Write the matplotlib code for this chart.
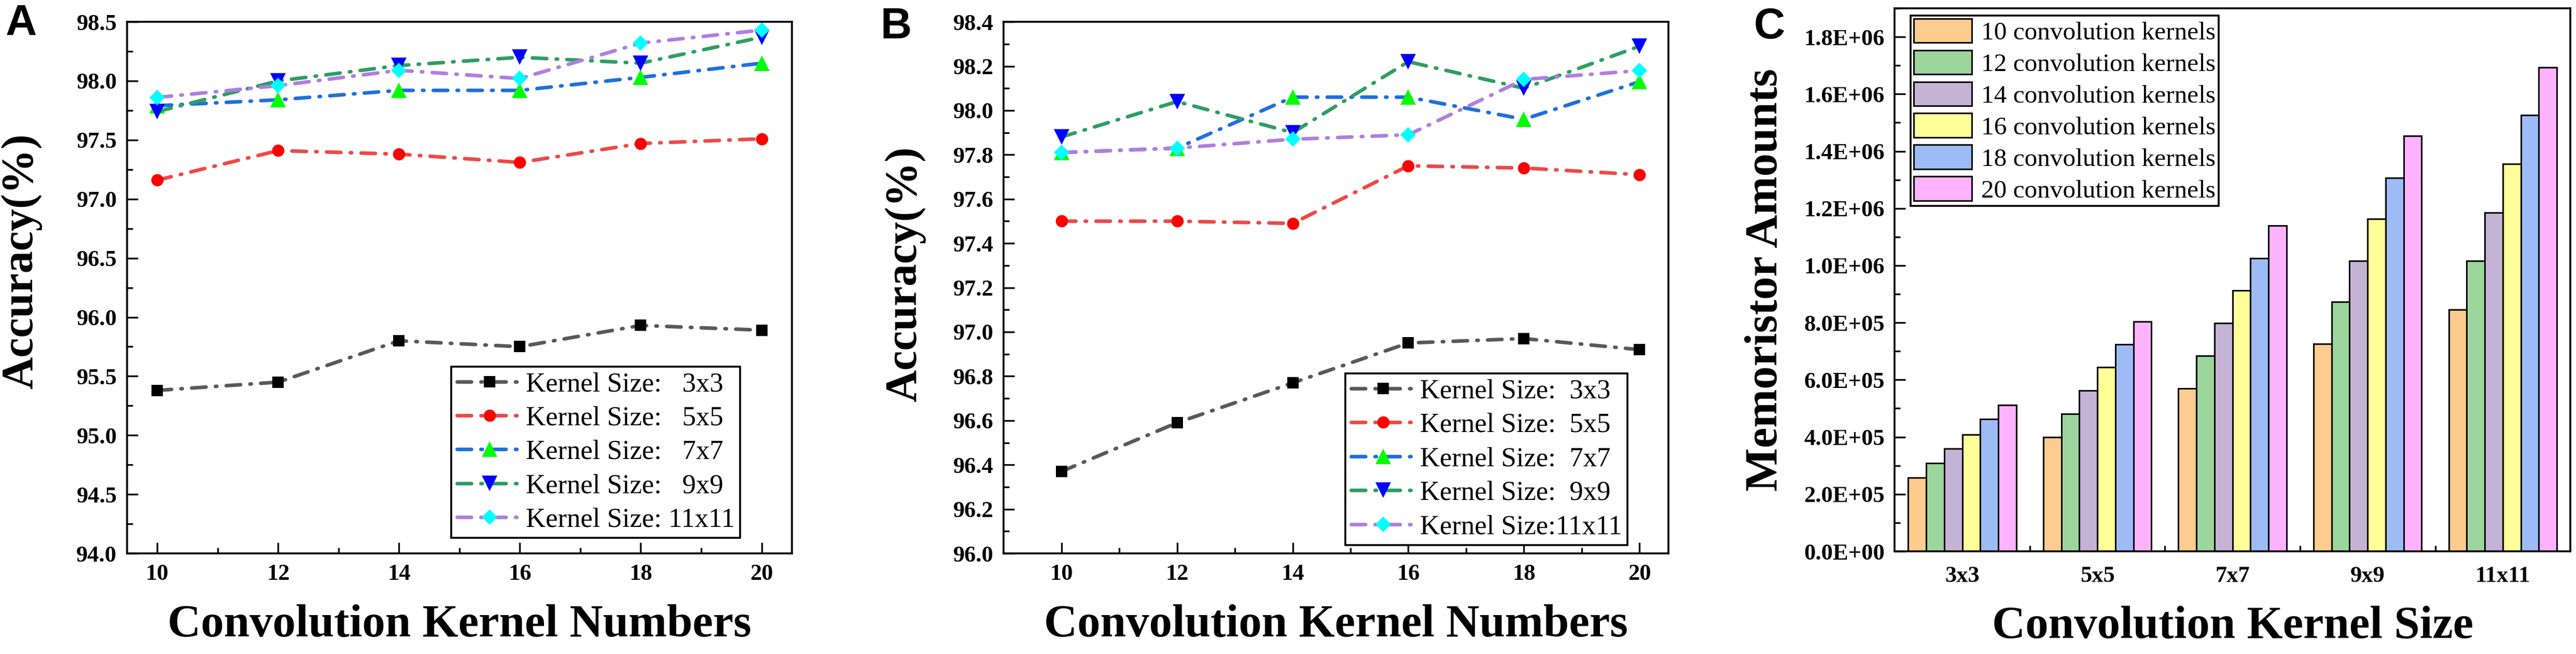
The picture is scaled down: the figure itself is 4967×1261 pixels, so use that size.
import numpy as np
import matplotlib
matplotlib.use('Agg')
import matplotlib.pyplot as plt
from matplotlib.ticker import MultipleLocator, FixedLocator, FormatStrFormatter, FuncFormatter

SERIF = 'Liberation Serif'
SANS = 'Liberation Sans'
plt.rcParams['font.family'] = [SERIF, 'DejaVu Serif']

# data
kernel_numbers = [10, 12, 14, 16, 18, 20]
kernel_sizes = ['3x3', '5x5', '7x7', '9x9', '11x11']

acc_a_3 = [95.38, 95.45, 95.80, 95.75, 95.93, 95.89]
acc_a_5 = [97.16, 97.41, 97.38, 97.31, 97.47, 97.51]
acc_a_7 = [97.79, 97.84, 97.92, 97.92, 98.03, 98.15]
acc_a_9 = [97.74, 98.00, 98.13, 98.20, 98.15, 98.37]
acc_a_11 = [97.86, 97.96, 98.09, 98.02, 98.32, 98.43]

acc_b_3 = [96.37, 96.59, 96.77, 96.95, 96.97, 96.92]
acc_b_5 = [97.50, 97.50, 97.49, 97.75, 97.74, 97.71]
acc_b_7 = [97.81, 97.83, 98.06, 98.06, 97.96, 98.13]
acc_b_9 = [97.88, 98.04, 97.90, 98.22, 98.10, 98.29]
acc_b_11 = [97.81, 97.83, 97.87, 97.89, 98.14, 98.18]

mem_10 = [2.57e5, 4.00e5, 5.69e5, 7.26e5, 8.46e5]
mem_12 = [3.08e5, 4.81e5, 6.84e5, 8.73e5, 1.017e6]
mem_14 = [3.59e5, 5.63e5, 7.98e5, 1.017e6, 1.185e6]
mem_16 = [4.09e5, 6.44e5, 9.12e5, 1.163e6, 1.355e6]
mem_18 = [4.62e5, 7.25e5, 1.025e6, 1.307e6, 1.526e6]
mem_20 = [5.12e5, 8.04e5, 1.140e6, 1.454e6, 1.694e6]

labels_a = ['Kernel Size:   3x3', 'Kernel Size:   5x5', 'Kernel Size:   7x7',
            'Kernel Size:   9x9', 'Kernel Size: 11x11']
labels_b = ['Kernel Size:  3x3', 'Kernel Size:  5x5', 'Kernel Size:  7x7',
            'Kernel Size:  9x9', 'Kernel Size:11x11']
labels_c = ['10 convolution kernels', '12 convolution kernels', '14 convolution kernels',
            '16 convolution kernels', '18 convolution kernels', '20 convolution kernels']

# styles
line_colors = ['#595959', '#f04848', '#1f6fdc', '#2e9e63', '#b07ee0']
marker_colors = ['#000000', '#ff0000', '#00ff00', '#0000ff', '#00ffff']
markers = ['s', 'o', '^', 'v', 'D']
msizes = [16, 17, 22, 22, 15.5]
bar_colors = ['#ffcc8f', '#9cd69c', '#c5b3d6', '#ffff99', '#9dbcf5', '#ffb3ff']
DASH = (0, (4.0, 2.6, 0.4, 2.6))

fig = plt.figure(figsize=(49.67, 12.61), dpi=100)


def style_axes(ax):
    for sp in ax.spines.values():
        sp.set_linewidth(2.6)
    ax.tick_params(which='both', direction='in', top=False, right=False, width=2.4)
    ax.tick_params(which='major', length=15)
    ax.tick_params(which='minor', length=8)
    for lab in ax.get_xticklabels() + ax.get_yticklabels():
        lab.set_fontweight('bold')
        lab.set_fontsize(32)


def line_panel(ax, series, labels, ylim, ymaj, xlim, legend_anchor, ylab_coords, letter_pos, letter):
    for i, ys in enumerate(series):
        ax.plot(kernel_numbers, ys, linestyle=DASH, color=line_colors[i], lw=5,
                dash_capstyle='round', marker=markers[i], ms=msizes[i],
                mfc=marker_colors[i], mec=marker_colors[i], mew=0, label=labels[i])
    ax.set_xlim(*xlim)
    ax.set_ylim(*ylim)
    ax.xaxis.set_major_locator(FixedLocator(kernel_numbers))
    ax.xaxis.set_minor_locator(FixedLocator([11, 13, 15, 17, 19]))
    ax.yaxis.set_major_locator(MultipleLocator(ymaj))
    ax.yaxis.set_minor_locator(MultipleLocator(ymaj / 2))
    ax.yaxis.set_major_formatter(FormatStrFormatter('%.1f'))
    style_axes(ax)
    ax.tick_params(axis='x', pad=14)
    ax.tick_params(axis='y', pad=14)
    ax.set_xlabel('Convolution Kernel Numbers', fontweight='bold', fontsize=64)
    ax.set_ylabel('Accuracy(%)', fontweight='bold', fontsize=62)
    ax.xaxis.set_label_coords(0.5, -0.095)
    ax.yaxis.set_label_coords(*ylab_coords)
    leg = ax.legend(loc='lower left', bbox_to_anchor=legend_anchor, borderaxespad=0,
                    fontsize=38, handlelength=2.37,
                    handletextpad=0.15, labelspacing=0.33, borderpad=0.2,
                    fancybox=False, framealpha=1, edgecolor='black')
    leg.get_frame().set_linewidth(2.6)
    fig.text(letter_pos[0], letter_pos[1], letter, fontfamily=SANS, fontweight='bold',
             fontsize=60, ha='left', va='top')


ax_a = fig.add_axes([0.0493, 0.1538, 0.2581, 0.8128])
line_panel(ax_a, [acc_a_3, acc_a_5, acc_a_7, acc_a_9, acc_a_11], labels_a,
           (94.0, 98.5), 0.5, (9.5, 20.5), (0.488, 0.029), (-0.128, 0.55),
           (0.0022, 0.995), 'A')

ax_b = fig.add_axes([0.3896, 0.1538, 0.2581, 0.8128])
line_panel(ax_b, [acc_b_3, acc_b_5, acc_b_7, acc_b_9, acc_b_11], labels_b,
           (96.0, 98.4), 0.2, (9.0, 20.5), (0.514, 0.016), (-0.117, 0.525),
           (0.3418, 0.990), 'B')

# panel C
ax_c = fig.add_axes([0.7355, 0.157, 0.2623, 0.8303])
x = np.arange(1, len(kernel_sizes) + 1)
bw = 0.8 / 6
for i, vals in enumerate([mem_10, mem_12, mem_14, mem_16, mem_18, mem_20]):
    ax_c.bar(x - 0.4 + bw * (i + 0.5), vals, width=bw, color=bar_colors[i],
             edgecolor='black', linewidth=2.2, label=labels_c[i])
ax_c.set_xlim(0.5, 5.5)
ax_c.set_ylim(0, 1.9e6)
ax_c.xaxis.set_major_locator(FixedLocator(x))
ax_c.set_xticklabels(kernel_sizes)
ax_c.xaxis.set_minor_locator(FixedLocator([1.5, 2.5, 3.5, 4.5]))
ax_c.yaxis.set_major_locator(MultipleLocator(2e5))
ax_c.yaxis.set_minor_locator(MultipleLocator(1e5))
ax_c.yaxis.set_major_formatter(FuncFormatter(lambda v, p: '%.1E' % v))
style_axes(ax_c)
ax_c.tick_params(axis='x', which='major', length=0, pad=20)
ax_c.tick_params(axis='x', which='minor', length=8)
ax_c.tick_params(axis='y', pad=14)
ax_c.set_xlabel('Convolution Kernel Size', fontweight='bold', fontsize=64)
ax_c.set_ylabel('Memoristor Amounts', fontweight='bold', fontsize=64)
ax_c.xaxis.set_label_coords(0.5, -0.1)
ax_c.yaxis.set_label_coords(-0.16, 0.50)
leg = ax_c.legend(loc='upper left', bbox_to_anchor=(0.024, 0.987), borderaxespad=0,
                  fontsize=35.5, handlelength=2.27, handleheight=1.08,
                  handletextpad=0.35, labelspacing=0.22, borderpad=0.12,
                  fancybox=False, framealpha=1, edgecolor='black')
leg.get_frame().set_linewidth(2.6)
fig.text(0.6808, 0.990, 'C', fontfamily=SANS, fontweight='bold', fontsize=60,
         ha='left', va='top')

fig.savefig('out.png', dpi=100, facecolor='white')
